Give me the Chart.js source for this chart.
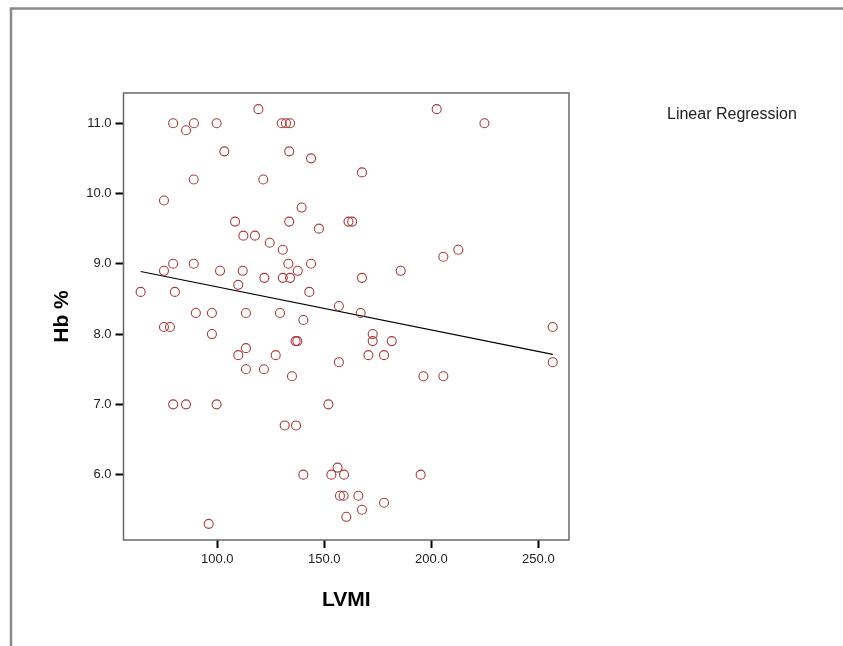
<!DOCTYPE html>
<html>
<head>
<meta charset="utf-8">
<script src="https://cdn.jsdelivr.net/npm/chart.js@4/dist/chart.umd.min.js"></script>
<style>
  html, body { margin: 0; padding: 0; background: #fff; }
  #wrap { width: 843px; height: 646px; position: relative; }
</style>
</head>
<body>
<div id="wrap"><canvas id="scatter" width="843" height="646"></canvas></div>
<script>
// --- Data ---
const lvmi = [
  119.2, 79.4, 85.4, 89.1, 99.7, 130.1, 132.1, 134.0, 103.3, 133.6,
  143.8, 89.0, 121.5, 75.1, 139.4, 108.3, 133.6, 147.5, 161.3, 163.0,
  112.2, 117.6, 124.5, 130.6, 79.4, 89.0, 133.2, 143.8, 75.1, 101.3,
  111.9, 137.6, 122.0, 130.6, 134.0, 109.8, 64.2, 80.2, 143.0, 156.8,
  90.0, 97.5, 113.4, 129.3, 140.2, 75.1, 77.9, 97.5, 136.6, 137.4,
  202.5, 224.8, 167.6, 212.6, 205.6, 185.7, 167.6, 167.0, 172.6, 172.6,
  181.5, 256.7, 113.4, 109.8, 127.3, 156.8, 113.4, 121.8, 134.9, 79.4,
  85.4, 99.7, 151.9, 131.5, 136.8, 140.2, 153.3, 156.2, 159.2, 157.3,
  159.0, 160.3, 96.0, 170.6, 177.9, 256.7, 196.3, 205.6, 195.0, 165.9,
  177.9, 167.6
];
const hb = [
  11.2, 11.0, 10.9, 11.0, 11.0, 11.0, 11.0, 11.0, 10.6, 10.6,
  10.5, 10.2, 10.2, 9.9, 9.8, 9.6, 9.6, 9.5, 9.6, 9.6,
  9.4, 9.4, 9.3, 9.2, 9.0, 9.0, 9.0, 9.0, 8.9, 8.9,
  8.9, 8.9, 8.8, 8.8, 8.8, 8.7, 8.6, 8.6, 8.6, 8.4,
  8.3, 8.3, 8.3, 8.3, 8.2, 8.1, 8.1, 8.0, 7.9, 7.9,
  11.2, 11.0, 10.3, 9.2, 9.1, 8.9, 8.8, 8.3, 8.0, 7.9,
  7.9, 8.1, 7.8, 7.7, 7.7, 7.6, 7.5, 7.5, 7.4, 7.0,
  7.0, 7.0, 7.0, 6.7, 6.7, 6.0, 6.0, 6.1, 6.0, 5.7,
  5.7, 5.4, 5.3, 7.7, 7.7, 7.6, 7.4, 7.4, 6.0, 5.7,
  5.6, 5.5
];
// fitted line endpoints (as drawn)
const fitX = [64.2, 256.7];
const fitY = [8.89, 7.71];

const xTicks = [100, 150, 200, 250];
const yTicks = [6, 7, 8, 9, 10, 11];

const points = lvmi.map((x, i) => ({ x, y: hb[i] }));
const fitLine = fitX.map((x, i) => ({ x, y: fitY[i] }));

// frame, plot box and the "Linear Regression" label
const decorations = {
  id: 'decorations',
  beforeDraw(chart) {
    const ctx = chart.ctx;
    ctx.save();
    ctx.fillStyle = '#fff';
    ctx.fillRect(0, 0, chart.width, chart.height);
    ctx.strokeStyle = '#8a8a8a';
    ctx.lineWidth = 2.5;
    ctx.beginPath();
    ctx.moveTo(11, chart.height);
    ctx.lineTo(11, 8.5);
    ctx.lineTo(chart.width, 8.5);
    ctx.stroke();
    ctx.restore();
  },
  afterDraw(chart) {
    const { ctx, chartArea: a } = chart;
    ctx.save();
    ctx.strokeStyle = '#6a6a6a';
    ctx.lineWidth = 1.5;
    ctx.strokeRect(a.left, a.top, a.right - a.left, a.bottom - a.top);
    ctx.fillStyle = '#222';
    ctx.font = '16px "Liberation Sans", Arial, sans-serif';
    ctx.textBaseline = 'alphabetic';
    ctx.fillText('Linear Regression', 667, 119);
    ctx.restore();
  }
};

const tickFont = { family: '"Liberation Sans", Arial, sans-serif', size: 13 };
const titleFont = { family: '"Liberation Sans", Arial, sans-serif', size: 21, weight: 'bold' };

new Chart(document.getElementById('scatter'), {
  type: 'scatter',
  data: {
    datasets: [
      {
        data: points,
        pointStyle: 'circle',
        pointRadius: 4.5,
        pointBorderWidth: 1.1,
        pointBorderColor: '#a83a3c',
        pointBackgroundColor: 'rgba(0,0,0,0)',
        showLine: false
      },
      {
        data: fitLine,
        showLine: true,
        borderColor: '#000',
        borderWidth: 1.2,
        pointRadius: 0
      }
    ]
  },
  options: {
    responsive: false,
    animation: false,
    layout: { padding: { left: 0, top: 93, right: 274, bottom: 0 } },
    plugins: { legend: { display: false }, tooltip: { enabled: false } },
    scales: {
      x: {
        type: 'linear',
        min: 56.2,
        max: 264.3,
        afterBuildTicks: s => { s.ticks = xTicks.map(v => ({ value: v })); },
        afterFit: s => { s.height = 106; },
        grid: { drawOnChartArea: false, tickLength: 8, tickWidth: 2, tickColor: '#000' },
        border: { display: false },
        ticks: { font: tickFont, color: '#222', padding: 4, maxRotation: 0, callback: v => v.toFixed(1) },
        title: { display: true, text: 'LVMI', font: titleFont, color: '#000', padding: { top: 0, bottom: 33 } }
      },
      y: {
        type: 'linear',
        min: 5.07,
        max: 11.43,
        afterBuildTicks: s => { s.ticks = yTicks.map(v => ({ value: v })); },
        afterFit: s => { s.width = 123.5; },
        grid: { drawOnChartArea: false, tickLength: 8, tickWidth: 2, tickColor: '#000' },
        border: { display: false },
        ticks: { font: tickFont, color: '#222', padding: 4, callback: v => v.toFixed(1) },
        title: { display: true, text: 'Hb %', font: titleFont, color: '#000', padding: { top: 50, bottom: 0 } }
      }
    }
  },
  plugins: [decorations]
});
</script>
</body>
</html>
